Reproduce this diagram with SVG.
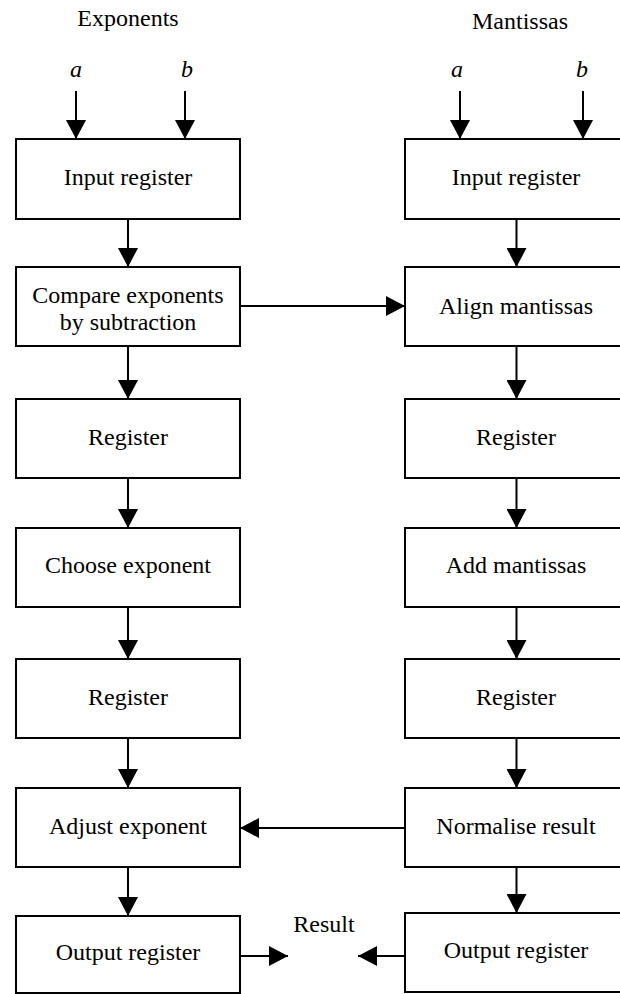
<svg xmlns="http://www.w3.org/2000/svg" width="620" height="994" viewBox="0 0 620 994">
  <style>
    .box { fill: #fff; stroke: #000; stroke-width: 2; }
    .lbl { font-family: "Liberation Serif", "Times New Roman", serif; font-size: 24px; fill: #000; text-anchor: middle; }
    .var { font-style: italic; }
    .wire { stroke: #000; stroke-width: 2; fill: none; marker-end: url(#head); }
  </style>
  <defs>
    <marker id="head" markerUnits="userSpaceOnUse" markerWidth="19" markerHeight="20" refX="19" refY="10" orient="auto">
      <path d="M0,0 L19,10 L0,20 Z" fill="#000"/>
    </marker>
  </defs>
  <rect width="620" height="994" fill="#fff"/>

  <!-- column headings and operand labels -->
  <g id="headings">
    <text class="lbl" x="128" y="26">Exponents</text>
    <text class="lbl" x="520" y="29">Mantissas</text>
    <text class="lbl var" x="76" y="77">a</text>
    <text class="lbl var" x="187" y="77">b</text>
    <text class="lbl var" x="457" y="77">a</text>
    <text class="lbl var" x="582" y="77">b</text>
    <text class="lbl" x="324" y="932">Result</text>
  </g>

  <!-- exponent pipeline -->
  <g id="exp-input">
    <rect class="box" x="16" y="139" width="224" height="80"/>
    <text class="lbl" x="128" y="185">Input register</text>
  </g>
  <g id="exp-compare">
    <rect class="box" x="16" y="267" width="224" height="79"/>
    <text class="lbl" x="128" y="303">Compare exponents</text>
    <text class="lbl" x="128" y="330">by subtraction</text>
  </g>
  <g id="exp-reg1">
    <rect class="box" x="16" y="399" width="224" height="79"/>
    <text class="lbl" x="128" y="444.5">Register</text>
  </g>
  <g id="exp-choose">
    <rect class="box" x="16" y="528" width="224" height="79"/>
    <text class="lbl" x="128" y="573">Choose exponent</text>
  </g>
  <g id="exp-reg2">
    <rect class="box" x="16" y="659" width="224" height="79"/>
    <text class="lbl" x="128" y="705">Register</text>
  </g>
  <g id="exp-adjust">
    <rect class="box" x="16" y="788" width="224" height="79"/>
    <text class="lbl" x="128" y="834">Adjust exponent</text>
  </g>
  <g id="exp-output">
    <rect class="box" x="16" y="916" width="224" height="77"/>
    <text class="lbl" x="128" y="960">Output register</text>
  </g>

  <!-- mantissa pipeline (boxes run past the right edge) -->
  <g id="man-input">
    <rect class="box" x="405" y="139" width="225" height="80"/>
    <text class="lbl" x="516" y="185">Input register</text>
  </g>
  <g id="man-align">
    <rect class="box" x="405" y="267" width="225" height="79"/>
    <text class="lbl" x="516" y="314">Align mantissas</text>
  </g>
  <g id="man-reg1">
    <rect class="box" x="405" y="399" width="225" height="79"/>
    <text class="lbl" x="516" y="444.5">Register</text>
  </g>
  <g id="man-add">
    <rect class="box" x="405" y="528" width="225" height="79"/>
    <text class="lbl" x="516" y="573">Add mantissas</text>
  </g>
  <g id="man-reg2">
    <rect class="box" x="405" y="659" width="225" height="79"/>
    <text class="lbl" x="516" y="705">Register</text>
  </g>
  <g id="man-normalise">
    <rect class="box" x="405" y="788" width="225" height="79"/>
    <text class="lbl" x="516" y="834">Normalise result</text>
  </g>
  <g id="man-output">
    <rect class="box" x="405" y="913" width="225" height="79"/>
    <text class="lbl" x="516" y="958">Output register</text>
  </g>

  <!-- connectors -->
  <g id="connectors">
    <line class="wire" x1="76" y1="91" x2="76" y2="139"/>
    <line class="wire" x1="185" y1="91" x2="185" y2="139"/>
    <line class="wire" x1="460" y1="91" x2="460" y2="139"/>
    <line class="wire" x1="583" y1="91" x2="583" y2="139"/>

    <line class="wire" x1="128" y1="219" x2="128" y2="267"/>
    <line class="wire" x1="128" y1="346" x2="128" y2="399"/>
    <line class="wire" x1="128" y1="478" x2="128" y2="528"/>
    <line class="wire" x1="128" y1="607" x2="128" y2="659"/>
    <line class="wire" x1="128" y1="738" x2="128" y2="788"/>
    <line class="wire" x1="128" y1="867" x2="128" y2="916"/>

    <line class="wire" x1="516.5" y1="219" x2="516.5" y2="267"/>
    <line class="wire" x1="516.5" y1="346" x2="516.5" y2="399"/>
    <line class="wire" x1="516.5" y1="478" x2="516.5" y2="528"/>
    <line class="wire" x1="516.5" y1="607" x2="516.5" y2="659"/>
    <line class="wire" x1="516.5" y1="738" x2="516.5" y2="788"/>
    <line class="wire" x1="516.5" y1="867" x2="516.5" y2="913"/>

    <line class="wire" x1="240" y1="306" x2="405" y2="306"/>
    <line class="wire" x1="405" y1="828" x2="240" y2="828"/>
    <line class="wire" x1="240" y1="956" x2="288" y2="956"/>
    <line class="wire" x1="405" y1="956" x2="358" y2="956"/>
  </g>
</svg>
